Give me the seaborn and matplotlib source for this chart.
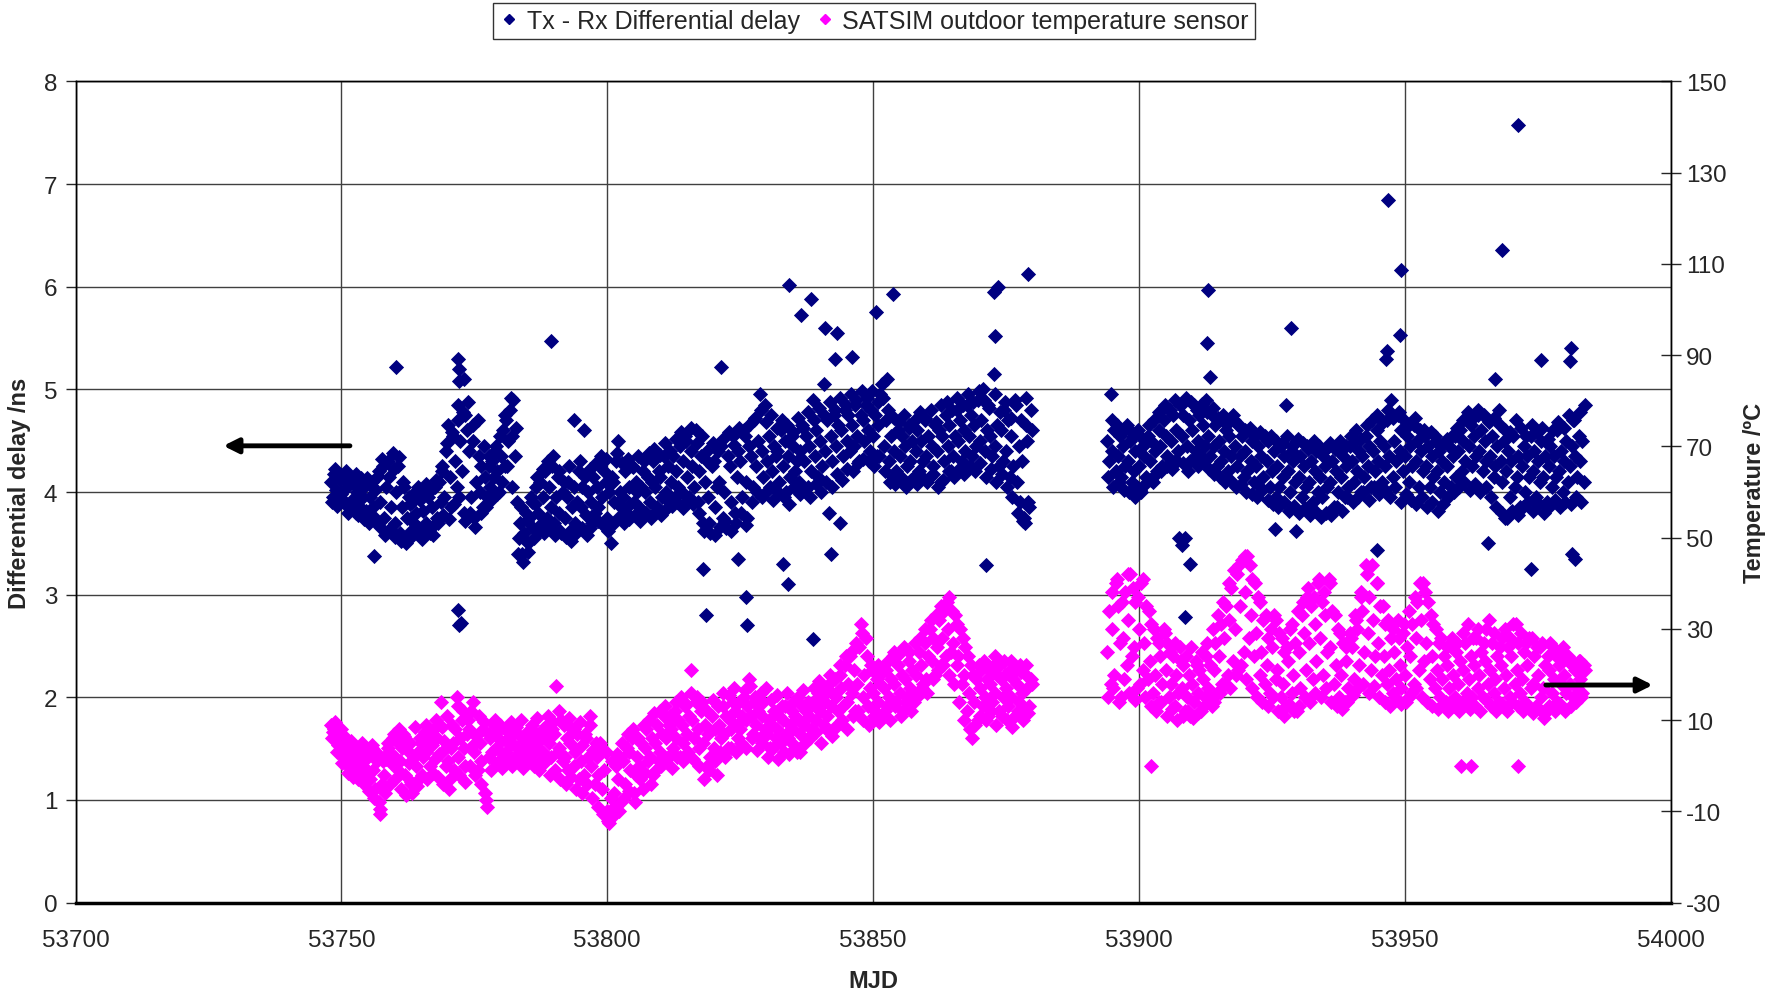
import numpy as np
import pandas as pd
import seaborn as sns
import matplotlib.pyplot as plt
from matplotlib.lines import Line2D

# Tx - Rx differential delay (ns), three readings per day
DELAY_START_A = 53748
DELAY_A = [
    4.10, 3.95, 4.18, 4.02, 3.88, 4.12, 3.98, 4.15, 3.90, 4.05, 3.85, 4.10, 3.92, 4.08, 3.80,
    4.00, 3.86, 4.14, 3.95, 4.05, 3.82, 3.78, 3.95, 4.10, 3.85, 4.02, 3.70, 4.20, 3.90, 4.32,
    3.75, 4.05, 3.62, 4.15, 3.85, 4.38, 3.70, 4.00, 4.25, 3.60, 3.85, 4.10, 3.55, 3.75, 3.95,
    3.62, 3.90, 3.70, 3.80, 4.05, 3.65, 3.58, 3.82, 4.00, 3.70, 3.95, 3.60, 3.85, 3.68, 4.05,
    3.75, 4.10, 3.90, 4.20, 3.95, 4.40, 4.65, 4.15, 3.85, 4.55, 4.30, 4.05, 4.85, 4.50, 4.20,
    3.80, 4.75, 4.60, 4.40, 3.95, 4.65, 3.75, 4.10, 4.70, 4.00, 4.25, 3.85, 4.15, 3.95, 4.35,
    4.05, 4.30, 4.15, 4.45, 4.20, 4.00, 4.35, 4.60, 4.25, 4.70, 4.50, 4.80, 4.55, 4.90, 4.35,
    3.90, 3.55, 3.70, 3.40, 3.60, 3.80, 3.50, 3.75, 3.95, 3.65, 3.88, 4.05, 3.80, 4.10, 3.70,
    3.95, 4.20, 3.75, 4.05, 3.85, 4.25, 3.70, 3.95, 4.15, 3.80, 3.60, 4.00, 3.75, 3.95, 4.10,
    3.62, 3.85, 4.70, 3.70, 3.90, 4.20, 3.85, 4.05, 4.60, 3.78, 4.00, 3.65, 3.90, 4.15, 3.80,
    4.05, 3.85, 4.25, 3.95, 4.20, 4.10, 3.75, 4.00, 3.50, 4.10, 3.90, 4.30, 4.50, 4.00, 3.85,
    3.95, 4.20, 3.80, 4.05, 3.88, 4.25, 3.90, 4.10, 4.00, 3.85, 4.05, 4.20, 4.00, 3.80, 4.15,
    3.90, 4.10, 4.30, 4.05, 3.85, 4.20, 4.15, 3.95, 4.35, 4.00, 4.25, 3.90, 4.10, 4.35, 3.95,
    4.20, 4.05, 4.45, 4.00, 4.30, 4.55, 4.15, 3.95, 4.40, 4.25, 4.05, 4.60, 3.90, 4.20, 4.35,
    3.70, 4.10, 4.40, 3.95, 3.60, 4.25, 4.30, 3.85, 4.05, 4.10, 4.45, 3.75, 4.00, 3.65, 4.35,
    4.25, 3.90, 4.55, 3.80, 4.15, 4.40, 4.30, 3.95, 4.60, 4.10, 3.75, 4.45, 4.35, 4.05, 4.70,
    4.25, 4.50, 4.95, 4.40, 4.15, 4.85, 4.30, 4.55, 4.05, 4.20, 4.45, 4.35, 4.40, 4.10, 4.60,
    4.25, 4.50, 4.00, 4.35, 4.15, 4.55, 4.45, 4.20, 4.30, 4.10, 4.40, 4.65, 4.30, 4.55, 4.05,
    4.45, 4.20, 4.90, 4.35, 4.60, 4.15, 4.50, 4.25, 5.05, 4.40, 4.70, 3.80, 4.55, 4.30, 4.75,
    4.45, 4.65, 3.70, 4.60, 4.35, 4.80, 4.50, 4.75, 4.40, 4.65, 4.45, 4.85, 4.55, 4.30, 4.75,
    4.70, 4.50, 4.85, 4.60, 4.40, 4.80, 4.55, 4.75, 4.35, 4.65, 4.95, 5.05, 4.45, 4.70, 5.10,
    4.30, 4.55, 4.15, 4.40, 4.20, 4.60, 4.35, 4.55, 4.10, 4.45, 4.25, 4.65, 4.30, 4.50, 4.15,
    4.40, 4.60, 4.20, 4.50, 4.30, 4.70, 4.35, 4.55, 4.15, 4.45, 4.25, 4.65, 4.40, 4.60, 4.10,
    4.55, 4.30, 4.75, 4.45, 4.65, 4.20, 4.35, 4.55, 4.80, 4.50, 4.70, 4.30, 4.60, 4.40, 4.85,
    4.55, 4.75, 4.35, 4.65, 4.45, 4.90, 4.50, 4.70, 5.00, 4.40, 4.60, 4.85, 4.55, 4.35, 5.15,
    4.45, 4.65, 4.25, 4.60, 4.30, 4.80, 4.40, 4.70, 4.15, 4.55, 4.25, 4.90, 4.10, 4.45, 3.90,
    4.30, 3.75, 4.65, 4.50, 3.85, 4.80,
]
# two more readings per day (low / high side of the band)
DELAY_A2 = [
    3.90, 4.22, 3.86, 4.16, 3.92, 4.20, 3.80, 4.12, 3.84, 4.18,
    3.78, 4.10, 3.74, 4.14, 3.70, 4.06, 3.76, 4.16, 3.66, 4.25,
    3.58, 4.30, 3.64, 4.22, 3.56, 4.34, 3.52, 4.05, 3.50, 3.88,
    3.56, 4.00, 3.60, 3.92, 3.54, 4.08, 3.62, 4.02, 3.58, 4.12,
    3.70, 4.25, 3.78, 4.48, 3.74, 4.58, 3.88, 4.70, 3.95, 4.78,
    3.72, 4.88, 3.80, 4.50, 3.66, 4.35, 3.80, 4.45, 3.85, 4.25,
    3.92, 4.40, 3.98, 4.55, 4.10, 4.75, 4.25, 4.92, 4.05, 4.62,
    3.40, 3.85, 3.32, 3.72, 3.42, 3.90, 3.55, 4.15, 3.62, 4.22,
    3.60, 4.30, 3.66, 4.35, 3.58, 4.20, 3.62, 4.10, 3.56, 4.25,
    3.52, 4.05, 3.60, 4.30, 3.65, 4.15, 3.58, 4.22, 3.70, 4.28,
    3.72, 4.35, 3.68, 4.32, 3.62, 4.15, 3.70, 4.38, 3.76, 4.28,
    3.70, 4.32, 3.74, 4.24, 3.78, 4.35, 3.72, 4.30, 3.80, 4.38,
    3.75, 4.42, 3.82, 4.36, 3.78, 4.48, 3.84, 4.40, 3.86, 4.52,
    3.90, 4.58, 3.84, 4.50, 3.92, 4.62, 3.88, 4.48, 3.80, 4.55,
    3.62, 4.30, 3.70, 4.48, 3.58, 4.40, 3.66, 4.52, 3.72, 4.58,
    3.62, 4.46, 3.70, 4.62, 3.80, 4.55, 3.68, 4.66, 3.90, 4.72,
    4.00, 4.80, 3.95, 4.68, 4.02, 4.75, 3.92, 4.62, 4.00, 4.70,
    3.95, 4.65, 3.88, 4.58, 4.05, 4.72, 3.98, 4.62, 4.02, 4.78,
    3.95, 4.70, 4.08, 4.82, 4.00, 4.75, 4.10, 4.88, 4.05, 4.80,
    4.18, 4.92, 4.12, 4.85, 4.22, 4.95, 4.20, 4.90, 4.28, 4.98,
    4.32, 4.92, 4.30, 4.98, 4.25, 4.88, 4.35, 4.92, 4.20, 4.80,
    4.10, 4.72, 4.08, 4.68, 4.15, 4.75, 4.05, 4.62, 4.12, 4.70,
    4.08, 4.78, 4.15, 4.72, 4.10, 4.80, 4.18, 4.68, 4.05, 4.85,
    4.12, 4.88, 4.20, 4.80, 4.15, 4.92, 4.22, 4.85, 4.18, 4.95,
    4.25, 4.88, 4.20, 4.98, 4.28, 4.90, 4.15, 4.82, 4.22, 4.95,
    4.10, 4.78, 4.18, 4.88, 4.05, 4.72, 3.95, 4.85, 3.80, 4.70,
    3.72, 4.92, 3.90, 4.60,
]
DELAY_START_B = 53894
DELAY_B = [
    4.50, 4.30, 4.95, 4.40, 4.60, 4.20, 4.35, 4.55, 4.15, 4.45, 4.25, 4.65, 4.30, 4.50, 4.10,
    4.20, 4.40, 4.05, 4.25, 4.00, 4.45, 4.35, 4.15, 4.55, 4.30, 4.50, 4.10, 4.40, 4.20, 4.60,
    4.45, 4.25, 4.70, 4.55, 4.35, 4.80, 4.50, 4.75, 4.30, 4.60, 4.40, 4.85, 4.55, 4.75, 3.55,
    4.45, 4.70, 4.30, 4.60, 4.85, 4.40, 4.50, 4.75, 4.35, 4.65, 4.45, 4.90, 4.55, 4.35, 4.75,
    4.45, 4.65, 4.25, 4.50, 4.30, 4.70, 4.40, 4.60, 4.20, 4.55, 4.35, 4.75, 4.45, 4.25, 4.65,
    4.35, 4.55, 4.15, 4.40, 4.20, 4.60, 4.30, 4.50, 4.10, 4.25, 4.45, 4.05, 4.35, 4.15, 4.55,
    4.30, 4.50, 4.05, 4.20, 4.40, 3.95, 4.25, 4.05, 4.45, 4.15, 4.35, 4.85, 4.20, 4.00, 4.40,
    4.30, 4.10, 4.50, 4.15, 4.35, 3.95, 4.25, 4.05, 4.45, 4.10, 4.30, 3.90, 4.20, 4.40, 4.00,
    4.15, 3.95, 4.35, 4.25, 4.05, 4.45, 4.10, 4.30, 3.85, 4.20, 4.00, 4.40, 4.15, 4.35, 3.95,
    4.25, 4.05, 4.45, 4.30, 4.10, 4.50, 4.20, 4.40, 4.00, 4.35, 4.15, 4.55, 4.25, 4.45, 4.05,
    4.40, 4.20, 4.60, 4.30, 4.50, 4.10, 4.45, 4.25, 4.70, 4.35, 4.90, 4.15, 4.50, 4.30, 4.75,
    4.40, 4.60, 4.20, 4.35, 4.55, 4.10, 4.45, 4.25, 4.65, 4.30, 4.50, 4.05, 4.40, 4.20, 4.60,
    4.25, 4.45, 4.05, 4.35, 4.15, 4.55, 4.20, 4.40, 4.00, 4.30, 4.10, 4.50, 4.25, 4.45, 4.05,
    4.35, 4.55, 4.15, 4.40, 4.60, 4.20, 4.50, 4.30, 4.70, 4.45, 4.65, 4.25, 4.55, 4.35, 4.75,
    4.40, 4.60, 4.20, 4.50, 4.30, 4.70, 4.35, 4.55, 4.15, 4.25, 4.45, 4.80, 4.30, 4.10, 4.50,
    4.20, 4.40, 3.95, 4.30, 4.55, 4.05, 4.15, 4.35, 3.85, 4.25, 4.45, 4.00, 4.35, 4.15, 4.55,
    4.20, 4.40, 3.95, 4.30, 4.10, 4.50, 4.15, 4.35, 3.90, 4.25, 4.45, 4.05, 4.35, 4.15, 4.60,
    4.20, 4.40, 4.00, 4.30, 4.50, 4.10, 4.25, 4.45, 4.70, 4.35, 4.15, 4.55, 4.30, 4.50, 4.10,
]
DELAY_B2 = [
    4.15, 4.70, 4.05, 4.65, 4.10, 4.58, 4.02, 4.62, 4.00, 4.55,
    3.95, 4.60, 4.02, 4.52, 4.08, 4.65, 4.12, 4.70, 4.18, 4.78,
    4.20, 4.85, 4.25, 4.80, 4.22, 4.90, 4.30, 4.85, 4.28, 4.92,
    4.20, 4.88, 4.32, 4.80, 4.25, 4.86, 4.30, 4.78, 4.22, 4.82,
    4.18, 4.72, 4.15, 4.75, 4.10, 4.68, 4.12, 4.70, 4.05, 4.65,
    4.08, 4.60, 4.00, 4.62, 3.98, 4.55, 3.95, 4.58, 4.02, 4.52,
    3.92, 4.55, 3.88, 4.50, 3.85, 4.48, 3.90, 4.55, 3.82, 4.45,
    3.86, 4.52, 3.80, 4.48, 3.84, 4.42, 3.78, 4.50, 3.82, 4.45,
    3.76, 4.40, 3.80, 4.48, 3.78, 4.42, 3.85, 4.50, 3.82, 4.45,
    3.95, 4.55, 3.90, 4.60, 3.95, 4.52, 4.00, 4.65, 3.92, 4.70,
    4.05, 4.75, 3.98, 4.68, 4.02, 4.80, 3.95, 4.72, 4.05, 4.78,
    3.90, 4.70, 3.98, 4.65, 3.92, 4.72, 3.88, 4.60, 3.95, 4.55,
    3.85, 4.58, 3.90, 4.50, 3.82, 4.45, 3.88, 4.52, 3.95, 4.55,
    4.00, 4.62, 4.05, 4.70, 4.10, 4.78, 4.02, 4.72, 4.08, 4.80,
    4.00, 4.75, 4.05, 4.68, 3.95, 4.72, 3.85, 4.65, 3.80, 4.60,
    3.75, 4.58, 3.82, 4.70, 3.78, 4.62, 3.85, 4.55, 3.90, 4.65,
    3.82, 4.58, 3.88, 4.62, 3.80, 4.52, 3.85, 4.60, 3.92, 4.68,
    3.85, 4.62, 3.90, 4.75, 3.88, 4.70, 3.95, 4.78, 3.90, 4.85,
]
DELAY_EXTRA_MJD = [
    53756.2, 53760.3, 53772.0, 53772.2, 53772.1, 53773.0, 53771.9, 53772.2, 53772.5, 53789.5,
    53818.0, 53818.5, 53821.3, 53826.0, 53826.3, 53824.5, 53834.1, 53838.3, 53836.5, 53841.0,
    53843.2, 53842.8, 53846.0, 53834.0, 53833.0, 53842.0, 53838.6, 53850.5, 53853.7, 53872.8,
    53873.5, 53873.0, 53879.2, 53871.3, 53878.5, 53907.5, 53908.0, 53908.6, 53909.5, 53913.0,
    53912.8, 53913.3, 53925.5, 53928.5, 53929.5, 53946.8, 53946.6, 53946.4, 53949.3, 53949.1,
    53944.7, 53968.3, 53971.3, 53966.9, 53975.6, 53973.8, 53981.3, 53981.0, 53981.5, 53982.0,
    53968.9, 53965.7,
]
DELAY_EXTRA_NS = [
    3.38, 5.22, 5.30, 5.20, 5.08, 5.10, 2.85, 2.70, 2.72, 5.47,
    3.25, 2.80, 5.22, 2.98, 2.70, 3.35, 6.02, 5.88, 5.72, 5.60,
    5.55, 5.30, 5.32, 3.10, 3.30, 3.40, 2.57, 5.75, 5.93, 5.95,
    6.00, 5.52, 6.12, 3.29, 3.70, 3.55, 3.48, 2.78, 3.30, 5.97,
    5.45, 5.12, 3.64, 5.60, 3.62, 6.84, 5.37, 5.30, 6.16, 5.53,
    3.44, 6.36, 7.58, 5.10, 5.29, 3.25, 5.40, 5.28, 3.40, 3.35,
    3.75, 3.50,
]

# SATSIM outdoor temperature sensor (degC), three readings per day
TEMP_START_A = 53748
TEMP_A = [
    9.0, 7.5, 8.0, 6.0, 4.5, 7.0, 3.5, 2.0, 5.0, 1.0, 3.0, -0.5, 4.5, 2.0, 0.0,
    1.5, -1.0, 3.0, 0.0, 2.5, -2.0, 2.0, -3.0, 4.0, -1.0, -5.0, 1.0, -8.0, -10.5, -4.0,
    -2.0, 1.5, 4.0, 3.0, 0.5, 6.0, 2.0, 5.5, -1.0, 1.0, 4.0, 7.0, -2.0, 3.5, 0.5,
    -4.0, -6.0, 2.0, 0.0, 3.0, -3.0, 5.0, 2.0, 7.5, 3.0, 6.0, 0.0, 4.5, 8.0, 1.5,
    6.0, 2.5, 14.0, 3.0, 5.5, 0.0, 1.0, -3.0, 4.0, 5.0, 8.0, 15.0, 2.0, 6.0, 10.0,
    4.0, 0.0, 7.0, 8.0, 12.0, 4.5, 3.0, 6.5, -1.0, 5.0, 1.0, 8.0, -6.0, -9.0, 2.0,
    6.0, 3.0, 9.0, 4.0, 7.5, 1.0, 5.5, 2.5, 8.0, 3.0, 6.0, 4.5, 5.0, 7.0, 2.0,
    4.0, 1.5, 6.5, 3.5, 5.5, 2.0, 6.0, 4.0, 8.0, 2.5, 5.0, 7.0, 4.0, 1.0, 6.0,
    3.0, 6.5, 9.0, 5.0, 2.0, 8.0, 7.0, 17.5, 3.0, 4.0, 10.0, 1.0, 2.0, 6.0, -1.0,
    5.0, 8.0, 0.0, 3.0, 7.0, -3.0, 1.0, 4.5, -2.0, 6.0, 2.0, 9.0, 0.0, 3.5, -4.0,
    2.0, -2.0, 5.0, -5.0, -1.0, 3.0, -10.0, -12.5, -7.0, -11.0, -6.0, 0.0, -3.0, 2.0, -8.0,
    1.0, -4.0, 4.0, 3.0, -1.0, 6.0, -6.0, -2.0, 2.0, 0.0, 5.0, -5.0, 4.0, 8.0, 1.0,
    2.0, 6.0, -2.0, 5.0, 9.0, 1.0, 3.0, 7.0, 11.0, 6.0, 2.0, 9.0, 8.0, 4.0, 12.0,
    6.0, 10.0, 2.0, 9.0, 5.0, 13.0, 7.0, 11.0, 21.0, 10.0, 6.0, 14.0, 8.0, 4.0, 12.0,
    5.0, 9.0, 0.0, 7.0, 2.0, 11.0, 4.0, 8.0, -2.0, 9.0, 6.0, 13.0, 7.0, 11.0, 4.0,
    10.0, 8.0, 14.0, 12.0, 9.0, 6.0, 8.0, 11.0, 15.0, 10.0, 13.0, 19.0, 11.0, 7.0, 14.0,
    9.0, 12.0, 6.0, 11.0, 14.0, 8.0, 7.0, 10.0, 4.0, 9.0, 12.0, 6.0, 8.0, 11.0, 5.0,
    10.0, 13.0, 7.0, 6.0, 9.0, 12.0, 8.0, 11.0, 3.0, 10.0, 7.0, 13.0, 9.0, 12.0, 6.0,
    11.0, 8.0, 14.0, 13.0, 10.0, 16.0, 12.0, 15.0, 9.0, 14.0, 11.0, 18.0, 13.0, 16.0, 8.0,
    15.0, 12.0, 20.0, 17.0, 13.0, 22.0, 14.0, 18.0, 24.0, 16.0, 21.0, 12.0, 18.0, 26.0, 31.0,
    15.0, 20.0, 28.0, 13.0, 17.0, 22.0, 16.0, 12.0, 19.0, 14.0, 18.0, 11.0, 17.0, 21.0, 13.0,
    15.0, 19.0, 24.0, 18.0, 14.0, 22.0, 16.0, 20.0, 12.0, 19.0, 15.0, 23.0, 17.0, 21.0, 14.0,
    20.0, 16.0, 25.0, 22.0, 18.0, 27.0, 19.0, 24.0, 30.0, 23.0, 28.0, 20.0, 26.0, 32.0, 22.0,
    28.0, 34.0, 24.0, 30.0, 37.0, 25.0, 27.0, 33.0, 22.0, 24.0, 30.0, 18.0, 20.0, 26.0, 12.0,
    16.0, 22.0, 6.0, 14.0, 19.0, 10.0, 17.0, 21.0, 13.0, 15.0, 19.0, 11.0, 18.0, 14.0, 22.0,
    16.0, 20.0, 12.0, 19.0, 15.0, 23.0, 17.0, 13.0, 21.0, 15.0, 19.0, 11.0, 18.0, 14.0, 22.0,
    16.0, 12.0, 20.0, 17.0, 13.0, 19.0,
]
TEMP_A2 = [
    6.0, 9.5, 3.0, 8.0, 0.5, 6.0, -1.5, 5.5, -2.5, 4.0,
    -3.0, 5.0, -4.0, 3.5, -5.5, 4.5, -7.0, 2.5, -9.5, 1.0,
    -6.0, 5.0, -4.0, 7.0, -3.0, 8.0, -5.0, 6.5, -6.5, 5.0,
    -3.5, 8.5, -4.5, 6.0, -2.0, 9.0, -3.0, 7.5, -1.5, 10.0,
    -2.5, 8.5, -4.0, 11.0, -5.0, 9.0, -1.0, 13.0, -2.0, 12.0,
    -3.5, 10.0, 0.0, 14.0, -2.0, 11.0, -4.0, 9.5, -7.5, 7.0,
    -1.0, 10.0, 0.5, 9.0, -0.5, 8.0, 1.0, 9.5, 0.0, 8.5,
    1.5, 10.0, -0.5, 7.5, 1.0, 9.0, 0.0, 10.5, -1.0, 8.0,
    0.5, 11.0, -2.0, 9.5, -1.0, 12.0, -3.0, 9.0, -4.0, 10.5,
    -2.5, 8.0, -5.0, 9.5, -6.0, 7.0, -4.0, 11.0, -7.0, 5.0,
    -9.0, 4.0, -10.5, 3.0, -12.0, 1.0, -9.0, 2.5, -10.0, 5.0,
    -7.0, 7.0, -5.5, 8.0, -8.0, 6.0, -3.0, 9.0, -1.5, 10.0,
    -4.0, 11.5, -1.0, 12.0, 0.0, 13.0, 1.5, 11.0, -0.5, 14.0,
    2.0, 15.0, 1.0, 13.5, 3.0, 16.0, 1.5, 15.0, 0.0, 14.0,
    -3.0, 12.0, -1.0, 14.5, 1.0, 13.0, 3.0, 16.0, 2.0, 15.5,
    4.0, 17.0, 3.0, 14.0, 5.0, 16.5, 4.0, 17.5, 6.0, 15.0,
    3.5, 16.0, 5.0, 17.0, 2.0, 14.5, 4.0, 15.5, 1.5, 13.0,
    3.0, 16.0, 2.5, 14.0, 4.5, 15.0, 3.0, 16.5, 5.0, 14.0,
    6.0, 17.0, 7.5, 18.5, 5.0, 17.0, 8.0, 20.0, 6.5, 19.0,
    9.0, 22.0, 10.0, 24.0, 8.0, 25.0, 11.0, 27.0, 12.0, 29.0,
    10.0, 24.0, 9.0, 21.0, 11.0, 22.0, 9.5, 20.5, 12.0, 23.0,
    10.0, 25.0, 13.0, 24.5, 11.0, 26.0, 14.0, 25.0, 12.0, 27.0,
    15.0, 28.0, 17.0, 30.0, 16.0, 32.0, 19.0, 33.0, 21.0, 35.0,
    22.0, 36.0, 20.0, 34.0, 18.0, 31.0, 14.0, 28.0, 10.0, 24.0,
    8.0, 20.0, 9.0, 22.0, 11.0, 23.0, 10.0, 21.0, 12.0, 24.0,
    9.0, 22.0, 11.0, 20.0, 10.0, 23.0, 8.5, 21.0, 12.0, 20.5,
    10.0, 22.0, 11.5, 18.0,
]
TEMP_START_B = 53894
TEMP_B = [
    25.0, 34.0, 18.0, 30.0, 20.0, 40.0, 35.0, 27.0, 15.0, 28.0, 38.0, 22.0, 32.0, 42.0, 24.0,
    26.0, 36.0, 17.0, 30.0, 40.0, 21.0, 27.0, 35.0, 19.0, 23.0, 31.0, 16.0, 20.0, 28.0, 14.0,
    24.0, 18.0, 30.0, 21.0, 27.0, 15.0, 18.0, 24.0, 13.0, 20.0, 16.0, 26.0, 17.0, 22.0, 12.0,
    15.0, 20.0, 11.0, 18.0, 14.0, 23.0, 16.0, 21.0, 12.0, 19.0, 15.0, 24.0, 17.0, 22.0, 13.0,
    21.0, 27.0, 16.0, 24.0, 31.0, 18.0, 28.0, 35.0, 20.0, 32.0, 39.0, 23.0, 30.0, 42.0, 21.0,
    35.0, 45.0, 25.0, 38.0, 46.0, 28.0, 33.0, 41.0, 24.0, 29.0, 37.0, 20.0, 25.0, 32.0, 18.0,
    22.0, 28.0, 16.0, 26.0, 33.0, 19.0, 21.0, 29.0, 15.0, 18.0, 25.0, 13.0, 23.0, 30.0, 16.0,
    20.0, 27.0, 12.0, 25.0, 17.0, 33.0, 29.0, 21.0, 37.0, 27.0, 35.0, 19.0, 31.0, 23.0, 40.0,
    28.0, 36.0, 20.0, 33.0, 25.0, 41.0, 26.0, 34.0, 18.0, 22.0, 30.0, 15.0, 20.0, 27.0, 14.0,
    23.0, 17.0, 29.0, 26.0, 19.0, 33.0, 30.0, 22.0, 38.0, 34.0, 25.0, 44.0, 29.0, 37.0, 21.0,
    32.0, 24.0, 40.0, 27.0, 35.0, 20.0, 24.0, 31.0, 18.0, 21.0, 28.0, 16.0, 25.0, 19.0, 32.0,
    22.0, 17.0, 29.0, 20.0, 26.0, 15.0, 24.0, 31.0, 18.0, 28.0, 36.0, 21.0, 32.0, 40.0, 23.0,
    27.0, 36.0, 19.0, 24.0, 31.0, 17.0, 21.0, 27.0, 15.0, 19.0, 24.0, 14.0, 22.0, 17.0, 27.0,
    20.0, 15.0, 25.0, 18.0, 23.0, 14.0, 21.0, 27.0, 16.0, 19.0, 24.0, 15.0, 22.0, 28.0, 17.0,
    20.0, 25.0, 15.0, 23.0, 30.0, 18.0, 21.0, 27.0, 16.0, 19.0, 24.0, 14.0, 22.0, 28.0, 17.0,
    20.0, 26.0, 15.0, 24.0, 31.0, 18.0, 21.0, 27.0, 16.0, 19.0, 25.0, 14.0, 22.0, 28.0, 17.0,
    18.0, 24.0, 13.0, 20.0, 26.0, 15.0, 17.0, 22.0, 12.0, 21.0, 27.0, 16.0, 19.0, 24.0, 14.0,
    22.0, 18.0, 26.0, 20.0, 16.0, 24.0, 18.0, 22.0, 15.0, 21.0, 17.0, 23.0, 19.0, 16.0, 22.0,
]
TEMP_B2 = [
    15.0, 38.0, 17.0, 41.0, 14.0, 36.0, 19.0, 42.0, 16.0, 39.0,
    14.5, 37.0, 18.0, 41.0, 15.0, 34.0, 13.0, 30.0, 12.0, 27.0,
    14.0, 29.0, 11.0, 25.0, 12.5, 27.0, 10.0, 23.0, 11.0, 24.0,
    12.0, 26.0, 10.5, 22.0, 11.5, 25.0, 13.0, 27.0, 15.0, 30.0,
    14.0, 33.0, 16.0, 36.0, 18.0, 40.0, 17.0, 43.0, 20.0, 44.0,
    22.0, 46.0, 19.0, 44.0, 17.0, 40.0, 15.0, 36.0, 14.0, 33.0,
    13.0, 30.0, 15.0, 32.0, 12.0, 28.0, 11.0, 26.0, 13.5, 31.0,
    12.0, 34.0, 13.0, 36.0, 15.0, 39.0, 14.0, 37.0, 16.0, 41.0,
    15.0, 38.0, 17.0, 40.0, 14.0, 33.0, 13.0, 29.0, 12.5, 26.0,
    14.0, 28.0, 15.5, 32.0, 17.0, 37.0, 18.0, 42.0, 16.0, 44.0,
    17.5, 40.0, 15.0, 35.0, 14.0, 32.0, 13.0, 30.0, 15.0, 28.0,
    13.5, 31.0, 14.0, 34.0, 16.0, 37.0, 17.0, 40.0, 15.0, 38.0,
    14.0, 33.0, 13.0, 30.0, 12.5, 28.0, 13.5, 26.0, 12.0, 28.0,
    13.0, 27.0, 12.0, 29.0, 14.0, 31.0, 12.5, 28.0, 13.0, 30.0,
    12.0, 27.0, 14.5, 32.0, 13.0, 29.0, 12.0, 26.0, 13.5, 30.0,
    12.0, 28.0, 14.0, 31.0, 13.0, 29.0, 12.0, 27.0, 13.0, 28.0,
    11.5, 26.0, 12.5, 27.0, 10.5, 24.0, 13.0, 26.0, 12.0, 25.0,
    13.5, 24.0, 12.0, 23.0, 13.0, 22.5, 14.0, 23.0, 15.0, 21.0,
]
TEMP_EXTRA_MJD = [53902.3, 53960.5, 53962.5, 53971.2]
TEMP_EXTRA_C = [0.0, 0.0, 0.0, 0.0]

LEGEND_LABELS = ["Tx - Rx Differential delay", "SATSIM outdoor temperature sensor"]
NAVY = "#000080"
MAGENTA = "#FF00FF"

MAIN_TIMES = [0.0, 0.33, 0.67]   # fraction of day for the three readings
EXTRA_TIMES = [0.17, 0.83]       # fraction of day for the two extra readings


def readings(start, vals, times):
    n = len(vals) // len(times)
    mjd = start + np.repeat(np.arange(n), len(times)) + np.tile(times, n)
    return pd.DataFrame({"mjd": mjd, "val": vals[:n * len(times)]})


def main():
    delay = pd.concat([
        readings(DELAY_START_A, DELAY_A, MAIN_TIMES),
        readings(DELAY_START_A, DELAY_A2, EXTRA_TIMES),
        readings(DELAY_START_B, DELAY_B, MAIN_TIMES),
        readings(DELAY_START_B, DELAY_B2, EXTRA_TIMES),
        pd.DataFrame({"mjd": DELAY_EXTRA_MJD, "val": DELAY_EXTRA_NS}),
    ], ignore_index=True)
    temp = pd.concat([
        readings(TEMP_START_A, TEMP_A, MAIN_TIMES),
        readings(TEMP_START_A, TEMP_A2, EXTRA_TIMES),
        readings(TEMP_START_B, TEMP_B, MAIN_TIMES),
        readings(TEMP_START_B, TEMP_B2, EXTRA_TIMES),
        pd.DataFrame({"mjd": TEMP_EXTRA_MJD, "val": TEMP_EXTRA_C}),
    ], ignore_index=True)

    sns.set_style("white")
    plt.rcParams["font.family"] = ["Liberation Sans", "DejaVu Sans"]
    plt.rcParams["axes.unicode_minus"] = False

    fig = plt.figure(figsize=(17.69, 9.95), dpi=100)
    ax = fig.add_axes([0.0427, 0.0918, 0.9018, 0.8254])
    ax2 = ax.twinx()

    sns.scatterplot(data=delay, x="mjd", y="val", ax=ax, marker="D", s=60,
                    color=NAVY, linewidth=0, legend=False, zorder=3)
    sns.scatterplot(data=temp, x="mjd", y="val", ax=ax2, marker="D", s=60,
                    color=MAGENTA, linewidth=0, legend=False, zorder=3)

    ax.set_xlim(53700, 54000)
    ax.set_ylim(0, 8)
    ax.set_xticks(np.arange(53700, 54001, 50))
    ax.set_yticks(np.arange(0, 9, 1))
    ax2.set_ylim(-30, 150)
    ax2.set_yticks(np.arange(-30, 151, 20))

    ax.grid(True, color="#404040", linewidth=1.0)
    ax.set_axisbelow(True)
    ax2.grid(False)

    for a in (ax, ax2):
        for sp in a.spines.values():
            sp.set_color("black")
            sp.set_linewidth(1.0)
    ax.spines["bottom"].set_linewidth(2.5)

    ax.tick_params(axis="x", direction="out", length=7, width=1, labelsize=17.5, pad=12)
    ax.tick_params(axis="y", direction="out", length=7, width=1, labelsize=17.5, pad=6)
    ax2.tick_params(axis="y", direction="inout", length=14, width=1, labelsize=17.5, pad=4)

    ax.set_xlabel("MJD", fontsize=17, fontweight="bold", labelpad=13)
    ax.set_ylabel("Differential delay /ns", fontsize=17, fontweight="bold", labelpad=9)
    ax2.set_ylabel("Temperature /ºC", fontsize=17, fontweight="bold", labelpad=12)

    # direction arrows pointing at each axis
    arrow = dict(arrowstyle="-|>", color="black", lw=3.5, mutation_scale=22,
                 shrinkA=0, shrinkB=0)
    ax.annotate("", xy=(53727.8, 4.45), xytext=(53751.6, 4.45), arrowprops=arrow)
    ax2.annotate("", xy=(53996.6, 17.7), xytext=(53976.5, 17.7), arrowprops=arrow)

    handles = [
        Line2D([], [], marker="D", linestyle="", color=NAVY, markersize=5),
        Line2D([], [], marker="D", linestyle="", color=MAGENTA, markersize=5),
    ]
    leg = fig.legend(handles, LEGEND_LABELS, loc="center", bbox_to_anchor=(0.494, 0.978),
                     ncol=2, fontsize=18, frameon=True, fancybox=False,
                     handlelength=0.8, handletextpad=0.3, columnspacing=0.6,
                     borderpad=0.25, borderaxespad=0)
    leg.get_frame().set_edgecolor("black")
    leg.get_frame().set_linewidth(1.0)

    fig.savefig("out.png", dpi=100)


if __name__ == "__main__":
    main()
